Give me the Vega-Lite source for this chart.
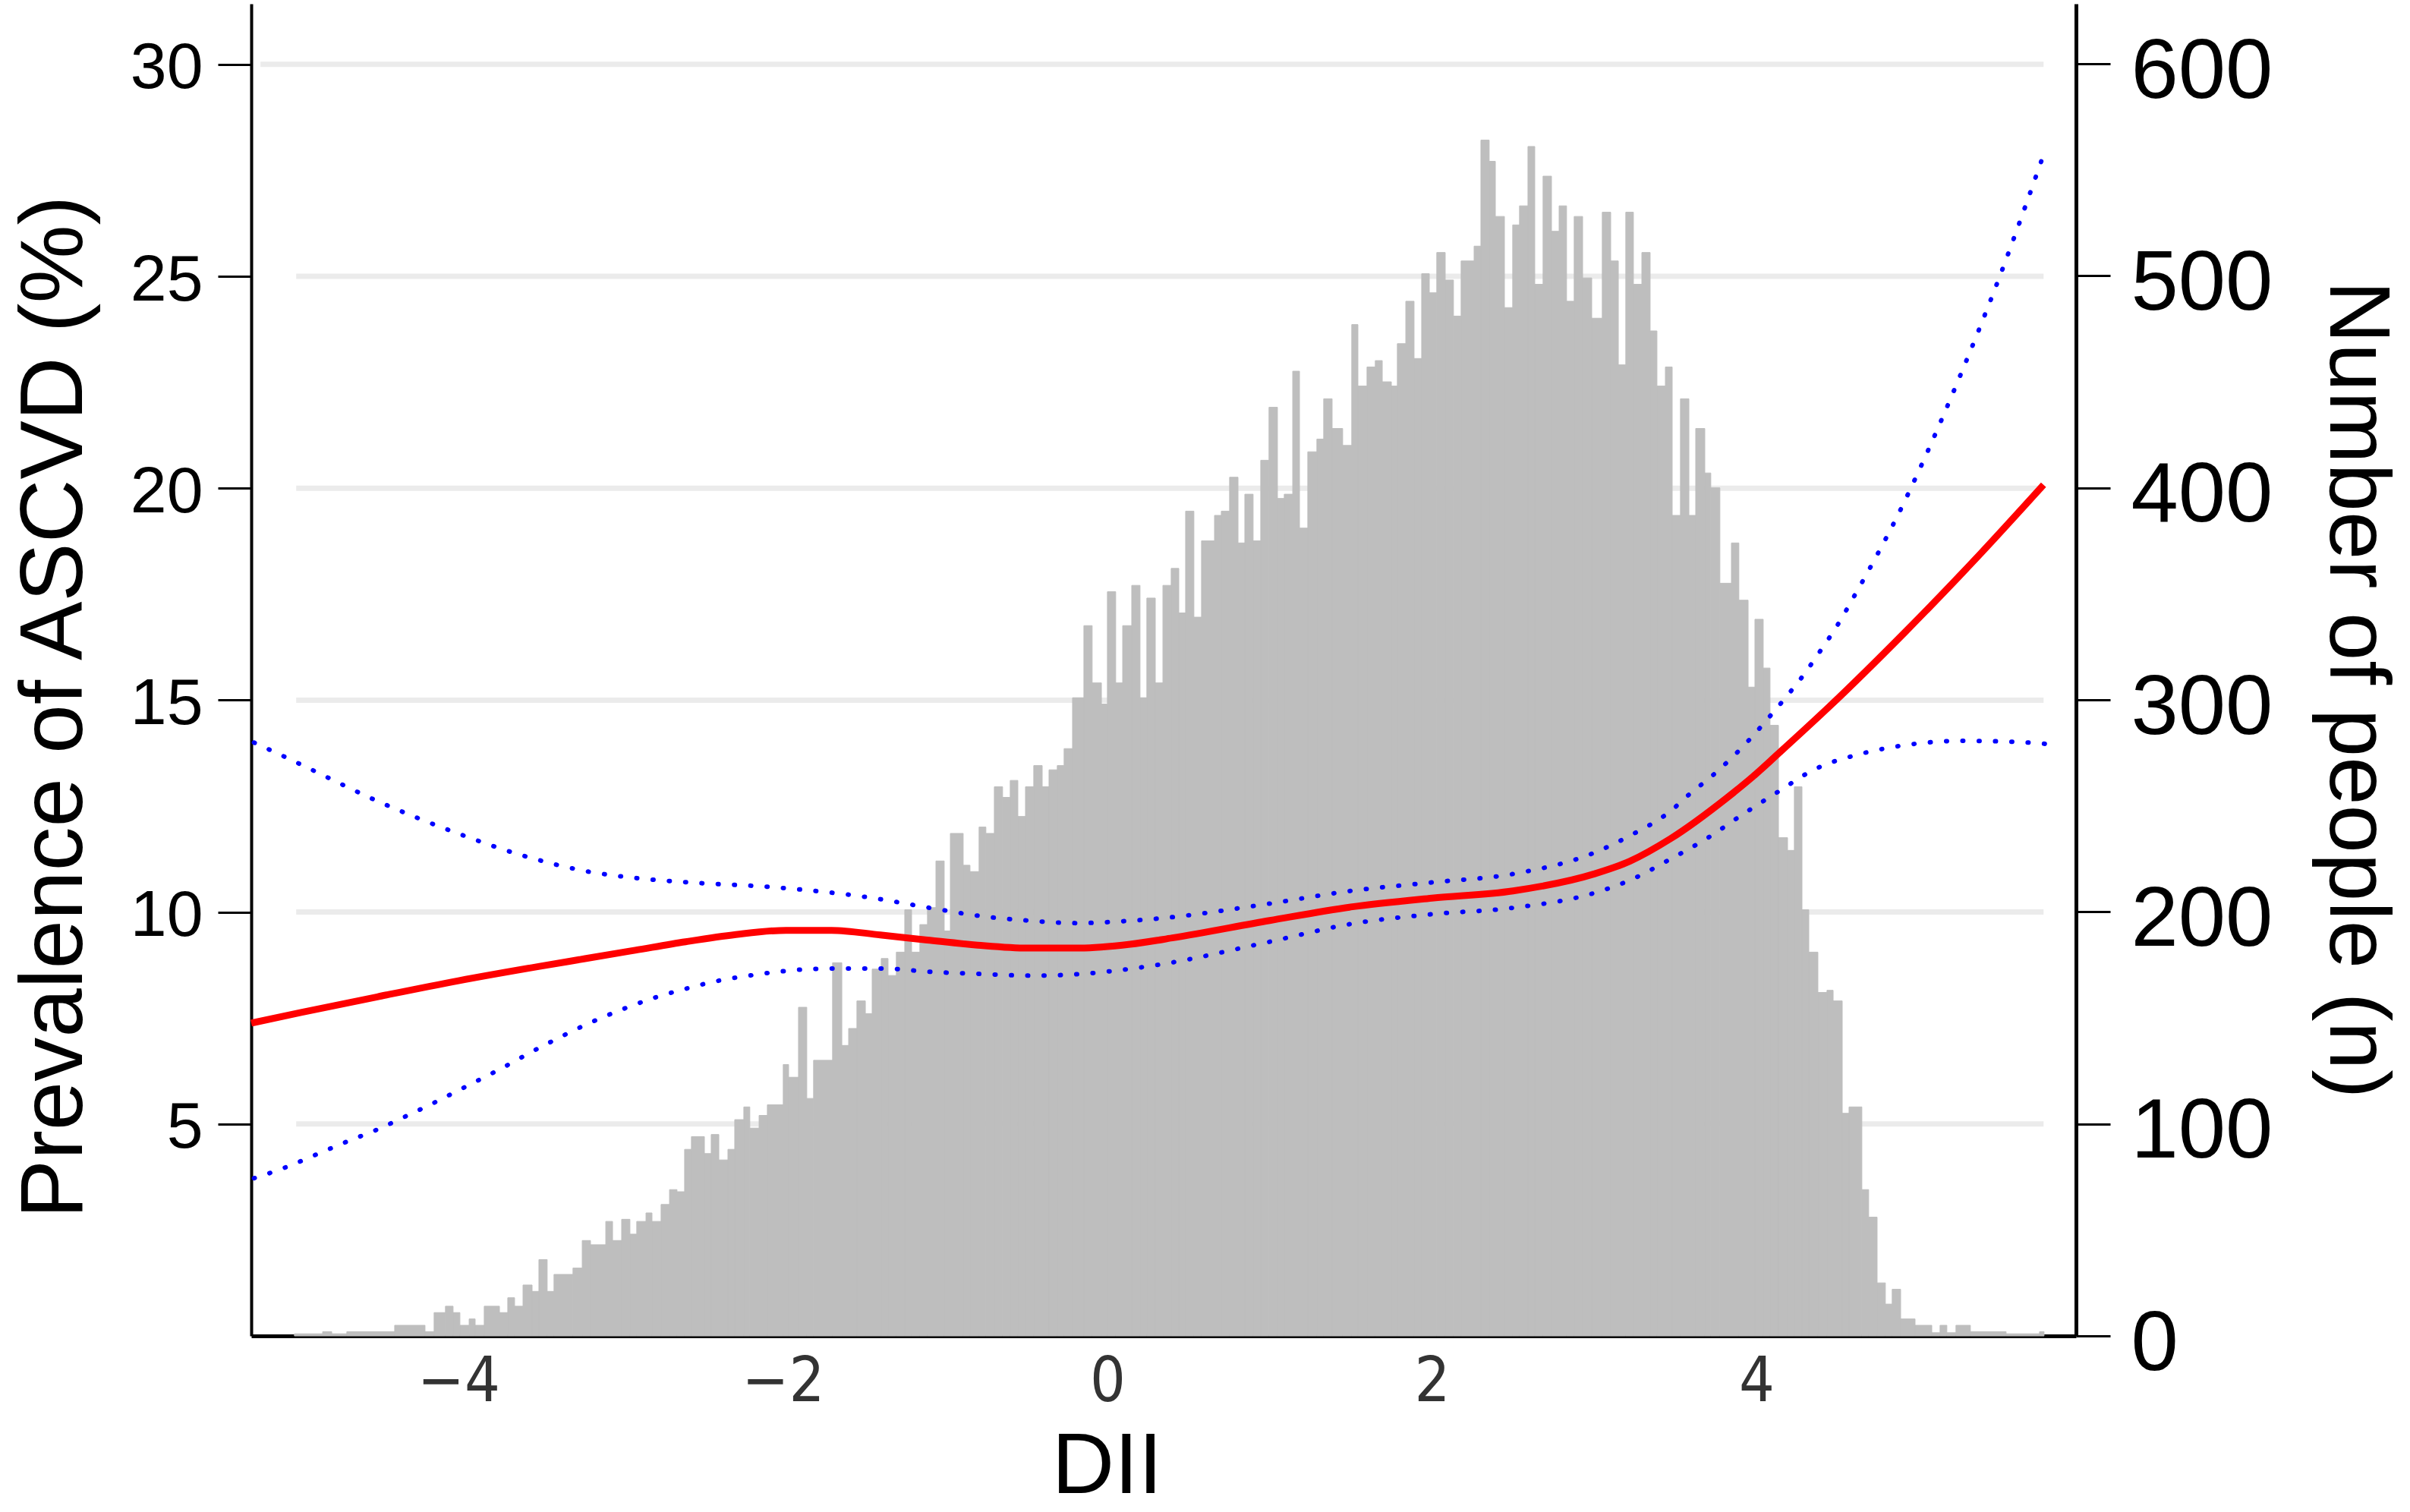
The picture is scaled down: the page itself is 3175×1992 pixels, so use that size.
{
  "$schema": "https://vega.github.io/schema/vega-lite/v6.json",
  "width": 2404,
  "height": 1755,
  "autosize": "none",
  "padding": {"left": 331, "top": 5, "right": 440, "bottom": 232},
  "background": "white",
  "config": {
    "view": {"stroke": null},
    "axis": {
      "grid": false,
      "domainColor": "#000000",
      "tickColor": "#000000",
      "labelColor": "#000000",
      "titleColor": "#000000",
      "labelFont": "Liberation Sans",
      "titleFont": "Liberation Sans",
      "titleFontWeight": "normal",
      "labelFlush": false,
      "labelOverlap": false,
      "labelLimit": 0,
      "titleLimit": 0
    }
  },
  "datasets": {
    "grid": [
      {"x": -5.0, "xe": 5.77, "pct": 5},
      {"x": -5.0, "xe": 5.77, "pct": 10},
      {"x": -5.0, "xe": 5.77, "pct": 15},
      {"x": -5.0, "xe": 5.77, "pct": 20},
      {"x": -5.0, "xe": 5.77, "pct": 25},
      {"x": -5.22, "xe": 5.77, "pct": 30}
    ],
    "hist": [
      {"x": -5.011, "xe": -4.837, "n": 1},
      {"x": -4.837, "xe": -4.781, "n": 2},
      {"x": -4.781, "xe": -4.688, "n": 1},
      {"x": -4.688, "xe": -4.393, "n": 2},
      {"x": -4.393, "xe": -4.206, "n": 5},
      {"x": -4.206, "xe": -4.150, "n": 2},
      {"x": -4.150, "xe": -4.080, "n": 11},
      {"x": -4.080, "xe": -4.033, "n": 14},
      {"x": -4.033, "xe": -3.991, "n": 11},
      {"x": -3.991, "xe": -3.934, "n": 5},
      {"x": -3.934, "xe": -3.897, "n": 8},
      {"x": -3.897, "xe": -3.841, "n": 5},
      {"x": -3.841, "xe": -3.747, "n": 14},
      {"x": -3.747, "xe": -3.696, "n": 11},
      {"x": -3.696, "xe": -3.654, "n": 18},
      {"x": -3.654, "xe": -3.602, "n": 14},
      {"x": -3.602, "xe": -3.546, "n": 24},
      {"x": -3.546, "xe": -3.504, "n": 21},
      {"x": -3.504, "xe": -3.453, "n": 36},
      {"x": -3.453, "xe": -3.411, "n": 21},
      {"x": -3.411, "xe": -3.294, "n": 29},
      {"x": -3.294, "xe": -3.237, "n": 32},
      {"x": -3.237, "xe": -3.186, "n": 45},
      {"x": -3.186, "xe": -3.092, "n": 43},
      {"x": -3.092, "xe": -3.050, "n": 54},
      {"x": -3.050, "xe": -2.994, "n": 45},
      {"x": -2.994, "xe": -2.943, "n": 55},
      {"x": -2.943, "xe": -2.901, "n": 48},
      {"x": -2.901, "xe": -2.844, "n": 54},
      {"x": -2.844, "xe": -2.807, "n": 58},
      {"x": -2.807, "xe": -2.751, "n": 54},
      {"x": -2.751, "xe": -2.699, "n": 62},
      {"x": -2.699, "xe": -2.653, "n": 69},
      {"x": -2.653, "xe": -2.606, "n": 68},
      {"x": -2.606, "xe": -2.564, "n": 88},
      {"x": -2.564, "xe": -2.484, "n": 94},
      {"x": -2.484, "xe": -2.442, "n": 86},
      {"x": -2.442, "xe": -2.395, "n": 95},
      {"x": -2.395, "xe": -2.339, "n": 83},
      {"x": -2.339, "xe": -2.297, "n": 88},
      {"x": -2.297, "xe": -2.241, "n": 102},
      {"x": -2.241, "xe": -2.204, "n": 108},
      {"x": -2.204, "xe": -2.147, "n": 98},
      {"x": -2.147, "xe": -2.096, "n": 104},
      {"x": -2.096, "xe": -1.998, "n": 109},
      {"x": -1.998, "xe": -1.965, "n": 128},
      {"x": -1.965, "xe": -1.904, "n": 122},
      {"x": -1.904, "xe": -1.853, "n": 155},
      {"x": -1.853, "xe": -1.811, "n": 112},
      {"x": -1.811, "xe": -1.694, "n": 130},
      {"x": -1.694, "xe": -1.637, "n": 176},
      {"x": -1.637, "xe": -1.595, "n": 137},
      {"x": -1.595, "xe": -1.544, "n": 145},
      {"x": -1.544, "xe": -1.492, "n": 158},
      {"x": -1.492, "xe": -1.450, "n": 152},
      {"x": -1.450, "xe": -1.394, "n": 173},
      {"x": -1.394, "xe": -1.352, "n": 178},
      {"x": -1.352, "xe": -1.301, "n": 170},
      {"x": -1.301, "xe": -1.249, "n": 181},
      {"x": -1.249, "xe": -1.207, "n": 201},
      {"x": -1.207, "xe": -1.156, "n": 181},
      {"x": -1.156, "xe": -1.109, "n": 194},
      {"x": -1.109, "xe": -1.057, "n": 202},
      {"x": -1.057, "xe": -1.006, "n": 224},
      {"x": -1.006, "xe": -0.968, "n": 191},
      {"x": -0.968, "xe": -0.889, "n": 237},
      {"x": -0.889, "xe": -0.847, "n": 222},
      {"x": -0.847, "xe": -0.791, "n": 219},
      {"x": -0.791, "xe": -0.749, "n": 240},
      {"x": -0.749, "xe": -0.697, "n": 237},
      {"x": -0.697, "xe": -0.646, "n": 259},
      {"x": -0.646, "xe": -0.599, "n": 254},
      {"x": -0.599, "xe": -0.552, "n": 262},
      {"x": -0.552, "xe": -0.505, "n": 245},
      {"x": -0.505, "xe": -0.454, "n": 259},
      {"x": -0.454, "xe": -0.402, "n": 269},
      {"x": -0.402, "xe": -0.360, "n": 259},
      {"x": -0.360, "xe": -0.309, "n": 267},
      {"x": -0.309, "xe": -0.267, "n": 269},
      {"x": -0.267, "xe": -0.215, "n": 277},
      {"x": -0.215, "xe": -0.145, "n": 301},
      {"x": -0.145, "xe": -0.094, "n": 335},
      {"x": -0.094, "xe": -0.037, "n": 308},
      {"x": -0.037, "xe": 0.000, "n": 298},
      {"x": 0.000, "xe": 0.051, "n": 351},
      {"x": 0.051, "xe": 0.094, "n": 308},
      {"x": 0.094, "xe": 0.150, "n": 335},
      {"x": 0.150, "xe": 0.201, "n": 354},
      {"x": 0.201, "xe": 0.243, "n": 301},
      {"x": 0.243, "xe": 0.295, "n": 348},
      {"x": 0.295, "xe": 0.342, "n": 308},
      {"x": 0.342, "xe": 0.393, "n": 354},
      {"x": 0.393, "xe": 0.440, "n": 362},
      {"x": 0.440, "xe": 0.482, "n": 341},
      {"x": 0.482, "xe": 0.533, "n": 389},
      {"x": 0.533, "xe": 0.580, "n": 339},
      {"x": 0.580, "xe": 0.660, "n": 375},
      {"x": 0.660, "xe": 0.702, "n": 387},
      {"x": 0.702, "xe": 0.753, "n": 389},
      {"x": 0.753, "xe": 0.805, "n": 405},
      {"x": 0.805, "xe": 0.847, "n": 374},
      {"x": 0.847, "xe": 0.898, "n": 397},
      {"x": 0.898, "xe": 0.945, "n": 375},
      {"x": 0.945, "xe": 0.996, "n": 413},
      {"x": 0.996, "xe": 1.048, "n": 438},
      {"x": 1.048, "xe": 1.090, "n": 395},
      {"x": 1.090, "xe": 1.142, "n": 397},
      {"x": 1.142, "xe": 1.184, "n": 455},
      {"x": 1.184, "xe": 1.235, "n": 381},
      {"x": 1.235, "xe": 1.291, "n": 417},
      {"x": 1.291, "xe": 1.333, "n": 423},
      {"x": 1.333, "xe": 1.385, "n": 442},
      {"x": 1.385, "xe": 1.450, "n": 428},
      {"x": 1.450, "xe": 1.506, "n": 420},
      {"x": 1.506, "xe": 1.544, "n": 477},
      {"x": 1.544, "xe": 1.600, "n": 448},
      {"x": 1.600, "xe": 1.651, "n": 457},
      {"x": 1.651, "xe": 1.694, "n": 460},
      {"x": 1.694, "xe": 1.750, "n": 450},
      {"x": 1.750, "xe": 1.787, "n": 448},
      {"x": 1.787, "xe": 1.839, "n": 468},
      {"x": 1.839, "xe": 1.890, "n": 488},
      {"x": 1.890, "xe": 1.937, "n": 461},
      {"x": 1.937, "xe": 1.984, "n": 501},
      {"x": 1.984, "xe": 2.030, "n": 492},
      {"x": 2.030, "xe": 2.082, "n": 511},
      {"x": 2.082, "xe": 2.133, "n": 498},
      {"x": 2.133, "xe": 2.180, "n": 481},
      {"x": 2.180, "xe": 2.260, "n": 507},
      {"x": 2.260, "xe": 2.302, "n": 514},
      {"x": 2.302, "xe": 2.353, "n": 564},
      {"x": 2.353, "xe": 2.391, "n": 554},
      {"x": 2.391, "xe": 2.447, "n": 528},
      {"x": 2.447, "xe": 2.498, "n": 485},
      {"x": 2.498, "xe": 2.540, "n": 524},
      {"x": 2.540, "xe": 2.592, "n": 533},
      {"x": 2.592, "xe": 2.634, "n": 561},
      {"x": 2.634, "xe": 2.685, "n": 496},
      {"x": 2.685, "xe": 2.737, "n": 547},
      {"x": 2.737, "xe": 2.784, "n": 521},
      {"x": 2.784, "xe": 2.830, "n": 533},
      {"x": 2.830, "xe": 2.877, "n": 488},
      {"x": 2.877, "xe": 2.929, "n": 528},
      {"x": 2.929, "xe": 2.985, "n": 499},
      {"x": 2.985, "xe": 3.050, "n": 480},
      {"x": 3.050, "xe": 3.102, "n": 530},
      {"x": 3.102, "xe": 3.149, "n": 507},
      {"x": 3.149, "xe": 3.195, "n": 458},
      {"x": 3.195, "xe": 3.242, "n": 530},
      {"x": 3.242, "xe": 3.294, "n": 496},
      {"x": 3.294, "xe": 3.345, "n": 511},
      {"x": 3.345, "xe": 3.387, "n": 474},
      {"x": 3.387, "xe": 3.439, "n": 448},
      {"x": 3.439, "xe": 3.481, "n": 457},
      {"x": 3.481, "xe": 3.532, "n": 387},
      {"x": 3.532, "xe": 3.584, "n": 442},
      {"x": 3.584, "xe": 3.626, "n": 387},
      {"x": 3.626, "xe": 3.682, "n": 428},
      {"x": 3.682, "xe": 3.719, "n": 407},
      {"x": 3.719, "xe": 3.775, "n": 400},
      {"x": 3.775, "xe": 3.846, "n": 355},
      {"x": 3.846, "xe": 3.892, "n": 374},
      {"x": 3.892, "xe": 3.949, "n": 347},
      {"x": 3.949, "xe": 3.991, "n": 306},
      {"x": 3.991, "xe": 4.042, "n": 338},
      {"x": 4.042, "xe": 4.084, "n": 315},
      {"x": 4.084, "xe": 4.136, "n": 288},
      {"x": 4.136, "xe": 4.192, "n": 235},
      {"x": 4.192, "xe": 4.234, "n": 229},
      {"x": 4.234, "xe": 4.281, "n": 259},
      {"x": 4.281, "xe": 4.323, "n": 201},
      {"x": 4.323, "xe": 4.379, "n": 181},
      {"x": 4.379, "xe": 4.435, "n": 162},
      {"x": 4.435, "xe": 4.473, "n": 163},
      {"x": 4.473, "xe": 4.529, "n": 158},
      {"x": 4.529, "xe": 4.571, "n": 105},
      {"x": 4.571, "xe": 4.650, "n": 108},
      {"x": 4.650, "xe": 4.692, "n": 69},
      {"x": 4.692, "xe": 4.744, "n": 56},
      {"x": 4.744, "xe": 4.795, "n": 25},
      {"x": 4.795, "xe": 4.837, "n": 15},
      {"x": 4.837, "xe": 4.889, "n": 22},
      {"x": 4.889, "xe": 4.978, "n": 8},
      {"x": 4.978, "xe": 5.081, "n": 5},
      {"x": 5.081, "xe": 5.132, "n": 1.5},
      {"x": 5.132, "xe": 5.174, "n": 5},
      {"x": 5.174, "xe": 5.230, "n": 1.5},
      {"x": 5.230, "xe": 5.319, "n": 5},
      {"x": 5.319, "xe": 5.539, "n": 2},
      {"x": 5.539, "xe": 5.745, "n": 1},
      {"x": 5.745, "xe": 5.773, "n": 2}
    ],
    "ci": [
      {"b": "upper", "x": -5.26, "pct": 14.0},
      {"b": "upper", "x": -5.08, "pct": 13.68},
      {"b": "upper", "x": -4.97, "pct": 13.48},
      {"b": "upper", "x": -4.5, "pct": 12.62},
      {"b": "upper", "x": -4.0, "pct": 11.85},
      {"b": "upper", "x": -3.6, "pct": 11.33},
      {"b": "upper", "x": -3.22, "pct": 10.97},
      {"b": "upper", "x": -2.9, "pct": 10.8},
      {"b": "upper", "x": -2.58, "pct": 10.7},
      {"b": "upper", "x": -2.07, "pct": 10.59},
      {"b": "upper", "x": -1.46, "pct": 10.34},
      {"b": "upper", "x": -1.08, "pct": 10.09},
      {"b": "upper", "x": -0.79, "pct": 9.91},
      {"b": "upper", "x": -0.49, "pct": 9.8},
      {"b": "upper", "x": -0.19, "pct": 9.74},
      {"b": "upper", "x": 0.12, "pct": 9.79},
      {"b": "upper", "x": 0.32, "pct": 9.85},
      {"b": "upper", "x": 1.0, "pct": 10.2},
      {"b": "upper", "x": 1.5, "pct": 10.5},
      {"b": "upper", "x": 2.0, "pct": 10.7},
      {"b": "upper", "x": 2.5, "pct": 10.9},
      {"b": "upper", "x": 3.0, "pct": 11.4},
      {"b": "upper", "x": 3.22, "pct": 11.8},
      {"b": "upper", "x": 3.47, "pct": 12.38},
      {"b": "upper", "x": 3.59, "pct": 12.79},
      {"b": "upper", "x": 3.72, "pct": 13.19},
      {"b": "upper", "x": 3.84, "pct": 13.61},
      {"b": "upper", "x": 3.96, "pct": 14.08},
      {"b": "upper", "x": 4.07, "pct": 14.56},
      {"b": "upper", "x": 4.18, "pct": 15.06},
      {"b": "upper", "x": 4.29, "pct": 15.59},
      {"b": "upper", "x": 4.39, "pct": 16.14},
      {"b": "upper", "x": 4.49, "pct": 16.71},
      {"b": "upper", "x": 4.62, "pct": 17.57},
      {"b": "upper", "x": 4.75, "pct": 18.47},
      {"b": "upper", "x": 4.87, "pct": 19.35},
      {"b": "upper", "x": 5.0, "pct": 20.4},
      {"b": "upper", "x": 5.25, "pct": 22.6},
      {"b": "upper", "x": 5.5, "pct": 25.0},
      {"b": "upper", "x": 5.77, "pct": 27.87},
      {"b": "lower", "x": -5.26, "pct": 3.72},
      {"b": "lower", "x": -5.07, "pct": 3.97},
      {"b": "lower", "x": -4.87, "pct": 4.29},
      {"b": "lower", "x": -4.69, "pct": 4.58},
      {"b": "lower", "x": -4.5, "pct": 4.87},
      {"b": "lower", "x": -4.32, "pct": 5.19},
      {"b": "lower", "x": -4.14, "pct": 5.52},
      {"b": "lower", "x": -3.96, "pct": 5.87},
      {"b": "lower", "x": -3.78, "pct": 6.22},
      {"b": "lower", "x": -3.5, "pct": 6.8},
      {"b": "lower", "x": -3.17, "pct": 7.42},
      {"b": "lower", "x": -2.98, "pct": 7.72},
      {"b": "lower", "x": -2.79, "pct": 7.98},
      {"b": "lower", "x": -2.6, "pct": 8.19},
      {"b": "lower", "x": -2.41, "pct": 8.37},
      {"b": "lower", "x": -2.21, "pct": 8.5},
      {"b": "lower", "x": -2.01, "pct": 8.6},
      {"b": "lower", "x": -1.8, "pct": 8.66},
      {"b": "lower", "x": -1.6, "pct": 8.67},
      {"b": "lower", "x": -1.39, "pct": 8.67},
      {"b": "lower", "x": -1.09, "pct": 8.59},
      {"b": "lower", "x": -0.78, "pct": 8.54},
      {"b": "lower", "x": -0.47, "pct": 8.5},
      {"b": "lower", "x": -0.16, "pct": 8.54},
      {"b": "lower", "x": 0.14, "pct": 8.66},
      {"b": "lower", "x": 0.32, "pct": 8.76},
      {"b": "lower", "x": 1.0, "pct": 9.3},
      {"b": "lower", "x": 1.5, "pct": 9.72},
      {"b": "lower", "x": 2.0, "pct": 9.95},
      {"b": "lower", "x": 2.5, "pct": 10.1},
      {"b": "lower", "x": 3.0, "pct": 10.45},
      {"b": "lower", "x": 3.22, "pct": 10.75},
      {"b": "lower", "x": 3.47, "pct": 11.25},
      {"b": "lower", "x": 3.7, "pct": 11.75},
      {"b": "lower", "x": 3.91, "pct": 12.29},
      {"b": "lower", "x": 4.13, "pct": 12.83},
      {"b": "lower", "x": 4.36, "pct": 13.37},
      {"b": "lower", "x": 4.64, "pct": 13.73},
      {"b": "lower", "x": 4.94, "pct": 13.95},
      {"b": "lower", "x": 5.25, "pct": 14.04},
      {"b": "lower", "x": 5.57, "pct": 14.02},
      {"b": "lower", "x": 5.78, "pct": 13.97}
    ],
    "fit": [
      {"x": -5.277, "pct": 7.38},
      {"x": -4.97, "pct": 7.63},
      {"x": -4.5, "pct": 8.0},
      {"x": -4.0, "pct": 8.38},
      {"x": -3.5, "pct": 8.72},
      {"x": -3.22, "pct": 8.9},
      {"x": -2.91, "pct": 9.1},
      {"x": -2.6, "pct": 9.3},
      {"x": -2.29, "pct": 9.47},
      {"x": -1.98, "pct": 9.57},
      {"x": -1.7, "pct": 9.57},
      {"x": -1.4, "pct": 9.46},
      {"x": -1.11, "pct": 9.34},
      {"x": -0.8, "pct": 9.22},
      {"x": -0.49, "pct": 9.15},
      {"x": -0.17, "pct": 9.15},
      {"x": 0.14, "pct": 9.24},
      {"x": 0.4, "pct": 9.39},
      {"x": 1.0, "pct": 9.8},
      {"x": 1.5, "pct": 10.12},
      {"x": 2.0, "pct": 10.33},
      {"x": 2.5, "pct": 10.5},
      {"x": 3.0, "pct": 10.9},
      {"x": 3.22, "pct": 11.2},
      {"x": 3.47, "pct": 11.73},
      {"x": 3.82, "pct": 12.7},
      {"x": 3.98, "pct": 13.2},
      {"x": 4.13, "pct": 13.72},
      {"x": 4.45, "pct": 14.85},
      {"x": 4.92, "pct": 16.62},
      {"x": 5.38, "pct": 18.45},
      {"x": 5.77, "pct": 20.08}
    ]
  },
  "layer": [
    {
      "data": {"name": "grid"},
      "mark": {"type": "rule", "color": "#ebebeb", "strokeWidth": 7},
      "encoding": {
        "x": {
          "field": "x", "type": "quantitative",
          "scale": {"domain": [-5.277, 5.97], "nice": false, "zero": false},
          "axis": {
            "values": [-4, -2, 0, 2, 4],
            "format": "d",
            "title": "DII",
            "orient": "bottom",
            "domainWidth": 5,
            "ticks": false,
            "labelFont": "Liberation Sans Narrow, DejaVu Sans Condensed, sans-serif",
            "labelFontSize": 82,
            "labelColor": "#333333",
            "labelPadding": 20,
            "titleFontSize": 114,
            "titleX": 1127,
            "titleY": 206,
            "titleBaseline": "alphabetic",
            "titleAlign": "center"
          }
        },
        "x2": {"field": "xe"},
        "y": {
          "field": "pct", "type": "quantitative",
          "scale": {"domain": [0, 31.43], "nice": false},
          "axis": null
        }
      }
    },
    {
      "data": {"name": "hist"},
      "mark": {"type": "rect", "color": "#bebebe", "stroke": "#bebebe", "strokeWidth": 1},
      "encoding": {
        "x": {
          "field": "x", "type": "quantitative", "title": "DII",
          "scale": {"domain": [-5.277, 5.97], "nice": false, "zero": false}
        },
        "x2": {"field": "xe"},
        "y": {
          "field": "n", "type": "quantitative",
          "scale": {"domain": [0, 628.3], "nice": false},
          "axis": {
            "orient": "right",
            "title": "Number of people (n)",
            "values": [0, 100, 200, 300, 400, 500, 600],
            "format": "d",
            "domainWidth": 5,
            "tickWidth": 3,
            "tickSize": 45,
            "labelFontSize": 112,
            "labelPadding": 27,
            "labelOffset": 10,
            "titleFontSize": 114,
            "titleAngle": 90,
            "titleX": 334,
            "titleY": 903,
            "titleBaseline": "alphabetic",
            "titleAlign": "center"
          }
        },
        "y2": {"datum": 0}
      }
    },
    {
      "data": {"name": "ci"},
      "mark": {"type": "line", "color": "#0000ff", "strokeWidth": 6, "strokeDash": [1, 20.5], "strokeCap": "round", "interpolate": "monotone"},
      "encoding": {
        "x": {
          "field": "x", "type": "quantitative", "title": "DII",
          "scale": {"domain": [-5.277, 5.97], "nice": false, "zero": false}
        },
        "y": {
          "field": "pct", "type": "quantitative",
          "scale": {"domain": [0, 31.43], "nice": false},
          "axis": {
            "orient": "left",
            "title": "Prevalence of ASCVD (%)",
            "values": [5, 10, 15, 20, 25, 30],
            "format": "d",
            "domainWidth": 4,
            "tickWidth": 3,
            "tickSize": 44,
            "labelFontSize": 86,
            "labelPadding": 20,
            "labelOffset": 5,
            "titleFontSize": 116,
            "titleAngle": -90,
            "titleX": -224,
            "titleY": 926,
            "titleBaseline": "alphabetic",
            "titleAlign": "center"
          }
        },
        "detail": {"field": "b"}
      }
    },
    {
      "data": {"name": "fit"},
      "mark": {"type": "line", "color": "#ff0000", "strokeWidth": 9, "interpolate": "monotone"},
      "encoding": {
        "x": {
          "field": "x", "type": "quantitative", "title": "DII",
          "scale": {"domain": [-5.277, 5.97], "nice": false, "zero": false}
        },
        "y": {
          "field": "pct", "type": "quantitative",
          "scale": {"domain": [0, 31.43], "nice": false},
          "axis": null
        }
      }
    }
  ],
  "resolve": {"scale": {"y": "independent"}}
}
